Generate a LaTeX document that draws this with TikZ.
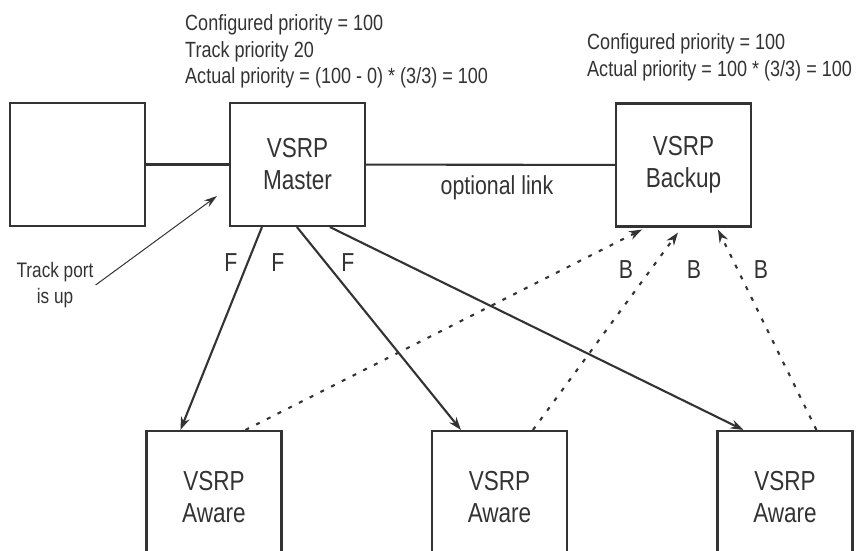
\documentclass[tikz,border=0pt]{standalone}
\usepackage{fontspec}
\setmainfont{Liberation Sans}[FakeStretch=0.82]
\usetikzlibrary{arrows.meta}

\definecolor{ink}{HTML}{333333}

\begin{document}
\begin{tikzpicture}[
    x=1pt, y=-1pt,
    every node/.style={text=ink},
    device/.style={draw=ink, line width=2.1pt, minimum width=135pt, minimum height=123pt, inner sep=0pt, align=center, font=\fontsize{27.5}{32}\selectfont},
    note/.style={anchor=west, inner sep=0pt, align=left, font=\fontsize{22}{26.5}\selectfont},
    tag/.style={inner sep=0pt, font=\fontsize{26}{30}\selectfont},
    link/.style={draw=ink, line width=2.1pt},
    fwd/.style={link, -{Stealth[length=13pt,width=9pt]}},
    bkp/.style={link, dash pattern=on 4pt off 8pt, -{Stealth[length=13pt,width=9pt]}},
    pointer/.style={draw=ink, line width=1pt, -{Stealth[length=13pt,width=8pt]}}
]
\clip (0,0) rectangle (864,550);

% switches on top
\node[device] (host) at (77.5,164.5) {};
\node[device] (master) at (297.5,164.5) {VSRP\\Master};
\node[device] (backup) at (683.5,165) {VSRP\\Backup};

% aware switches, cut off at the bottom
\node[device, minimum height=132pt] (aware1) at (214,497) {VSRP\\Aware};
\node[device, minimum height=132pt] (aware2) at (499.5,497) {VSRP\\Aware};
\node[device, minimum height=132pt] (aware3) at (785,497) {VSRP\\Aware};

% priority notes
\node[note] (masternote) at (185,51.5) {Configured priority = 100\\Track priority 20\\Actual priority = (100 - 0) * (3/3) = 100};
\node[note] (backupnote) at (587,57.5) {Configured priority = 100\\Actual priority = 100 * (3/3) = 100};

% links
\draw[link] (host) -- (master);
\draw[link] (master) -- (backup);
\node[tag] (optlink) at (497,188) {optional link};

% track port pointer
\node[note, anchor=center, align=center, font=\fontsize{21}{26}\selectfont] (trackport) at (55,285) {Track port\\is up};
\coordinate (trackup) at (217,196);
\draw[pointer] ([xshift=2pt]trackport.east) -- (trackup);

% forwarding paths
\draw[fwd] ([xshift=33pt]master.south west) -- ([xshift=35pt]aware1.north west);
\draw[fwd] ([xshift=68pt]master.south west) -- ([xshift=30pt]aware2.north west);
\draw[fwd] ([xshift=101pt]master.south west) -- ([xshift=27pt]aware3.north west);
\node[tag] (f1) at (231,263) {F};
\node[tag] (f2) at (278,263) {F};
\node[tag] (f3) at (348,263) {F};

% backup paths
\draw[bkp] ([xshift=100pt]aware1.north west) -- ([xshift=27pt,yshift=-2pt]backup.south west);
\draw[bkp] ([xshift=102pt]aware2.north west) -- ([xshift=63pt,yshift=-5pt]backup.south west);
\draw[bkp] ([xshift=100pt]aware3.north west) -- ([xshift=103pt,yshift=-2pt]backup.south west);
\node[tag] (b1) at (626,270) {B};
\node[tag] (b2) at (694,270) {B};
\node[tag] (b3) at (761,270) {B};
\end{tikzpicture}
\end{document}
